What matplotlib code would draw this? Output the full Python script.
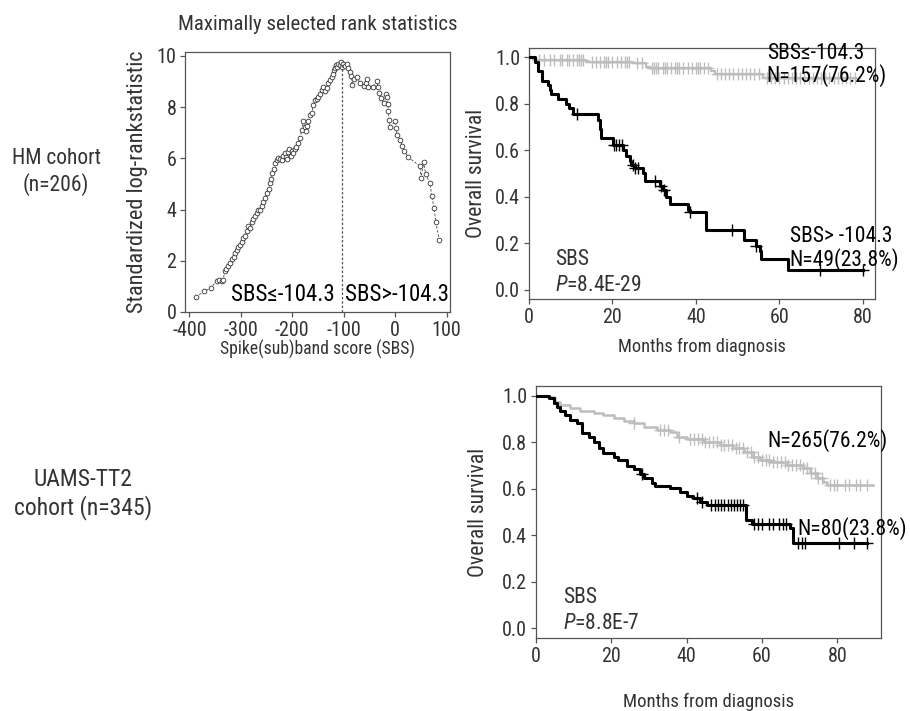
import numpy as np
import matplotlib
matplotlib.use('Agg')
import matplotlib.pyplot as plt

plt.rcParams['font.family'] = ['Roboto Condensed', 'Liberation Sans', 'DejaVu Sans']
plt.rcParams['mathtext.fontset'] = 'custom'
plt.rcParams['mathtext.rm'] = 'Roboto Condensed'
plt.rcParams['mathtext.it'] = 'Roboto Condensed:italic'
plt.rcParams['axes.unicode_minus'] = False

# ---- maximally selected rank statistics (HM cohort) ----
sbs_x = [-387.6, -370.9, -357.8, -346.8, -342, -337, -334, -331.5, -328, -324,
         -320.5, -317.6, -314, -311, -308, -304.8, -301.5, -298, -295, -291.8,
         -288.5, -285.4, -282, -279, -275.7, -272, -269, -266, -263, -259.4,
         -256, -252.9, -249.6, -246, -243, -240.5, -238.7, -236, -233.5, -230.5,
         -227, -224, -220.5, -218, -215, -212.5, -210.8, -208, -205.5, -203,
         -201, -198, -195, -192, -188.2, -184.9, -181.6, -178.4, -176, -173.5,
         -171, -168.8, -165.5, -162.2, -159, -155.8, -152.5, -149.4, -146, -142.8,
         -139.6, -136.5, -133, -130, -126.5, -123.3, -121, -118.9, -116.5, -114.9,
         -112.5, -110.5, -108, -105.9, -104, -100.8, -97.5, -94.2, -91, -87.8,
         -86, -84.5, -80, -74.8, -68.3, -60, -57.5, -55, -53, -42.5,
         -36, -33.5, -31.5, -28, -22, -18, -16, -14.5, -13.3, -12,
         -10, -0.3, 1, 4.2, 9.4, 13.8, 17, 25.5, 48.2, 50.2,
         55, 59.3, 67.6, 70.9, 75.4, 78.7, 85.8]
sbs_y = [0.58, 0.81, 0.94, 1.22, 1.26, 1.20, 1.25, 1.60, 1.66, 1.80,
         1.92, 2.07, 2.16, 2.30, 2.41, 2.52, 2.62, 2.74, 2.88, 2.97,
         3.16, 3.36, 3.28, 3.50, 3.62, 3.75, 3.88, 4.00, 3.98, 4.14,
         4.28, 4.46, 4.66, 4.82, 5.04, 5.20, 5.43, 5.60, 5.82, 5.92,
         6.01, 5.97, 5.95, 6.10, 6.21, 6.05, 5.98, 6.25, 6.35, 6.08,
         6.27, 6.20, 6.38, 6.45, 6.60, 6.79, 7.11, 7.44, 7.24, 7.05,
         7.25, 7.44, 7.70, 7.76, 8.09, 8.28, 8.30, 8.41, 8.50, 8.67,
         8.80, 8.62, 8.75, 8.93, 9.05, 9.18, 9.30, 9.44, 9.52, 9.64,
         9.58, 9.70, 9.66, 9.77, 9.57, 9.70, 9.62, 9.70, 9.51, 9.38,
         9.20, 8.86, 9.10, 9.18, 8.93, 8.82, 8.95, 9.10, 8.80, 8.80,
         9.00, 8.80, 8.56, 8.37, 8.15, 8.50, 8.40, 8.10, 7.83, 7.50,
         7.24, 7.44, 7.18, 6.92, 6.73, 6.47, 6.30, 6.04, 5.69, 5.24,
         5.85, 5.37, 5.04, 4.53, 4.07, 3.53, 2.80]
cutoff = -104.3

# ---- HM cohort KM ----
hm_hi_t = [0, 1.4, 2.2, 3.0, 4.6, 4.95, 5.35, 6.9, 8.9, 9.6, 10.5, 16.5, 16.9, 17.3,
           20.1, 22.5, 23.3, 24.1, 24.5, 25.3, 27.3, 27.7, 31.3, 32.1, 32.9, 33.7,
           38.1, 38.5, 42.3, 51.4, 54.5, 55.3, 55.6, 62.0]
hm_hi_s = [1.0, 0.98, 0.94, 0.90, 0.88, 0.86, 0.84, 0.82, 0.80, 0.78, 0.755, 0.73, 0.69, 0.652,
           0.623, 0.60, 0.575, 0.555, 0.535, 0.525, 0.50, 0.466, 0.444, 0.43, 0.40, 0.37,
           0.345, 0.335, 0.258, 0.215, 0.19, 0.165, 0.132, 0.086]
hm_hi_end = 80
hm_hi_cens = [11.5, 20.4, 20.9, 21.5, 22.4, 24.9, 25.5, 26.1, 30.1, 31.7, 32.3, 38.7,
              48.6, 54.5, 69.8, 80]

hm_lo_t = [0, 1.0, 13.7, 24.9, 28.1, 28.9, 43.7, 44.5, 56.0]
hm_lo_s = [1.0, 0.99, 0.98, 0.975, 0.96, 0.953, 0.94, 0.93, 0.91]
hm_lo_end = 78.4
hm_lo_cens = [2.5, 3.5, 5, 6, 7.5, 8, 9, 9.5, 10.5, 11.5, 12, 12.5, 13, 15, 16, 17, 18,
              18.5, 19, 20, 21, 22, 23, 23.5, 24, 26, 27, 29.5, 30, 30.5, 31, 32, 32.5,
              33, 34, 35, 35.5, 36, 37, 38, 39, 40, 40.5, 41, 42, 43, 45, 46, 47, 48,
              49, 50, 51, 52, 53, 54, 55, 57, 58, 59, 60, 61, 62, 63, 64, 65, 66, 67,
              68, 69, 70, 71, 72, 73, 74, 75, 76, 77, 78]

# ---- UAMS-TT2 cohort KM ----
ua_hi_t = [0, 3.4, 4.7, 5.7, 6.5, 7.8, 9.1, 10.9, 12.2, 14.0, 15.3, 16.6, 17.9, 20.6,
           21.9, 24.1, 25.9, 27.7, 28.6, 30.8, 31.7, 35.6, 38.3, 40.1, 41.8, 43.6, 45.4,
           55.8, 57.3, 67.5, 68.2]
ua_hi_s = [1.0, 0.99, 0.971, 0.951, 0.937, 0.918, 0.897, 0.882, 0.839, 0.825, 0.80, 0.775,
           0.756, 0.739, 0.722, 0.699, 0.686, 0.664, 0.646, 0.624, 0.61, 0.603, 0.588, 0.57,
           0.56, 0.545, 0.531, 0.466, 0.448, 0.43, 0.366]
ua_hi_end = 88
ua_hi_cens = [28.1, 42.7, 44, 46.5, 47.5, 48.3, 49, 50, 51, 51.8, 52.5, 53.5, 54.3, 55,
              58, 59, 60, 62, 63, 64.5, 65.5, 66.5, 69.5, 70.5, 71.5, 80.5, 84.4, 87.8]

ua_lo_t = [0, 2.9, 5.1, 6.5, 9.1, 11.8, 15.3, 17.9, 20.6, 23.3, 25.9, 28.6, 32.1, 35.6,
           37.4, 40.1, 44.5, 48.9, 52.4, 55.1, 57.7, 59.5, 62.2, 66.6, 71.0, 72.8, 74.5,
           76.3, 77.2]
ua_lo_s = [1.0, 0.994, 0.976, 0.962, 0.947, 0.937, 0.925, 0.918, 0.904, 0.893, 0.882, 0.868,
           0.854, 0.846, 0.825, 0.813, 0.803, 0.789, 0.775, 0.760, 0.739, 0.725, 0.717, 0.703,
           0.689, 0.667, 0.646, 0.631, 0.617]
ua_lo_end = 89.5
ua_lo_cens = [26, 33, 34, 35, 38, 41, 42, 43, 44, 45, 46, 47, 48, 49, 50, 51, 52, 53, 54,
              55, 56, 57, 58, 59, 60, 61, 62, 63, 64, 65, 66, 67, 68, 69, 70, 71, 72, 73,
              74, 75, 76, 78, 79, 80, 82, 83, 85, 86, 88]

GRAY = '#bdbdbd'
TXT = '#333333'
SPINE = '#555555'
ANN = 15.5   # annotation font size


def km(ax, t, s, end, cens, color, lw):
    tt = list(t) + [end]
    ss = list(s) + [s[-1]]
    ax.step(tt, ss, where='post', color=color, lw=lw, zorder=3)
    idx = np.searchsorted(t, cens, side='right') - 1
    ax.plot(cens, np.array(s)[idx], ls='none', marker='+', ms=8, mew=1.0,
            color=color, zorder=3)


def style(ax):
    for sp in ax.spines.values():
        sp.set_color(SPINE)
        sp.set_linewidth(0.9)
    ax.tick_params(direction='out', length=3.8, width=0.9, color=SPINE, pad=2.5,
                   labelsize=14.5, labelcolor=TXT)


fig = plt.figure(figsize=(9.1, 7.11), dpi=100)

# top-left
ax1 = fig.add_axes([0.2033, 0.5612, 0.2912, 0.3657])
ax1.plot(sbs_x, sbs_y, ls=(0, (3, 2)), lw=0.6, color='#444444', marker='o', ms=3.4,
         mfc='white', mec='#333333', mew=0.6)
ax1.vlines(cutoff, 0, 9.75, colors='#555555', linestyles=(0, (2, 1.5)), lw=0.9)
ax1.set_xlim(-408.4, 106.4)
ax1.set_ylim(0, 10.15)
ax1.set_xticks([-400, -300, -200, -100, 0, 100])
ax1.set_yticks([0, 2, 4, 6, 8, 10])
style(ax1)
ax1.text(cutoff - 13, 0.7, 'SBS≤-104.3', ha='right', va='center', fontsize=16.5)
ax1.text(cutoff + 6, 0.7, 'SBS>-104.3', ha='left', va='center', fontsize=16.5)
ax1.set_xlabel('Spike(sub)band score (SBS)', fontsize=12.7, color=TXT)
ax1.xaxis.set_label_coords(0.5, -0.145)
ax1.xaxis.label.set_va('center')
ax1.set_ylabel('Standardized log-rankstatistic', fontsize=16, color=TXT)
ax1.yaxis.set_label_coords(-0.14, 0.5)
ax1.set_title('Maximally selected rank statistics', fontsize=15, color=TXT,
              y=1.085, pad=0)

# top-right
ax2 = fig.add_axes([0.5813, 0.5795, 0.3802, 0.3530])
km(ax2, hm_lo_t, hm_lo_s, hm_lo_end, hm_lo_cens, GRAY, 1.6)
km(ax2, hm_hi_t, hm_hi_s, hm_hi_end, hm_hi_cens, 'black', 2.2)
ax2.set_xlim(0, 82.9)
ax2.set_ylim(-0.04, 1.04)
ax2.set_xticks([0, 20, 40, 60, 80])
ax2.set_yticks([0.0, 0.2, 0.4, 0.6, 0.8, 1.0])
ax2.yaxis.set_major_formatter(plt.FormatStrFormatter('%.1f'))
style(ax2)
ax2.text(57, 1.017, 'SBS≤-104.3', fontsize=ANN, va='center')
ax2.text(57, 0.92, 'N=157(76.2%)', fontsize=ANN, va='center')
ax2.text(62.5, 0.227, 'SBS> -104.3', fontsize=ANN, va='center')
ax2.text(62.5, 0.13, 'N=49(23.8%)', fontsize=ANN, va='center')
ax2.text(6.2, 0.13, 'SBS', fontsize=ANN, va='center', color=TXT)
ax2.text(6.2, 0.02, r'$\it{P}$=8.4E-29', fontsize=ANN, va='center', color=TXT)
ax2.set_xlabel('Months from diagnosis', fontsize=13.2, color=TXT)
ax2.xaxis.set_label_coords(0.5, -0.19)
ax2.xaxis.label.set_va('center')
ax2.set_ylabel('Overall survival', fontsize=15.5, color=TXT)
ax2.yaxis.set_label_coords(-0.12, 0.5)

# bottom-right
ax3 = fig.add_axes([0.5890, 0.1027, 0.3791, 0.3544])
km(ax3, ua_lo_t, ua_lo_s, ua_lo_end, ua_lo_cens, GRAY, 1.8)
km(ax3, ua_hi_t, ua_hi_s, ua_hi_end, ua_hi_cens, 'black', 2.2)
ax3.set_xlim(0, 91.6)
ax3.set_ylim(-0.043, 1.043)
ax3.set_xticks([0, 20, 40, 60, 80])
ax3.set_yticks([0.0, 0.2, 0.4, 0.6, 0.8, 1.0])
ax3.yaxis.set_major_formatter(plt.FormatStrFormatter('%.1f'))
style(ax3)
ax3.text(61.5, 0.81, 'N=265(76.2%)', fontsize=ANN, va='center')
ax3.text(69.5, 0.43, 'N=80(23.8%)', fontsize=ANN, va='center')
ax3.text(7.2, 0.13, 'SBS', fontsize=ANN, va='center', color=TXT)
ax3.text(7.2, 0.02, r'$\it{P}$=8.8E-7', fontsize=ANN, va='center', color=TXT)
ax3.set_xlabel('Months from diagnosis', fontsize=13.5, color=TXT)
ax3.xaxis.set_label_coords(0.5, -0.254)
ax3.xaxis.label.set_va('center')
ax3.set_ylabel('Overall survival', fontsize=15.5, color=TXT)
ax3.yaxis.set_label_coords(-0.135, 0.5)

# cohort labels
fig.text(56 / 910, 1 - 172 / 711, 'HM cohort\n(n=206)', ha='center', va='center',
         fontsize=15.5, color=TXT, linespacing=1.25)
fig.text(83 / 910, 1 - 494 / 711, 'UAMS-TT2\ncohort (n=345)', ha='center', va='center',
         fontsize=17, color=TXT, linespacing=1.2)

fig.savefig('out.png', dpi=100)
